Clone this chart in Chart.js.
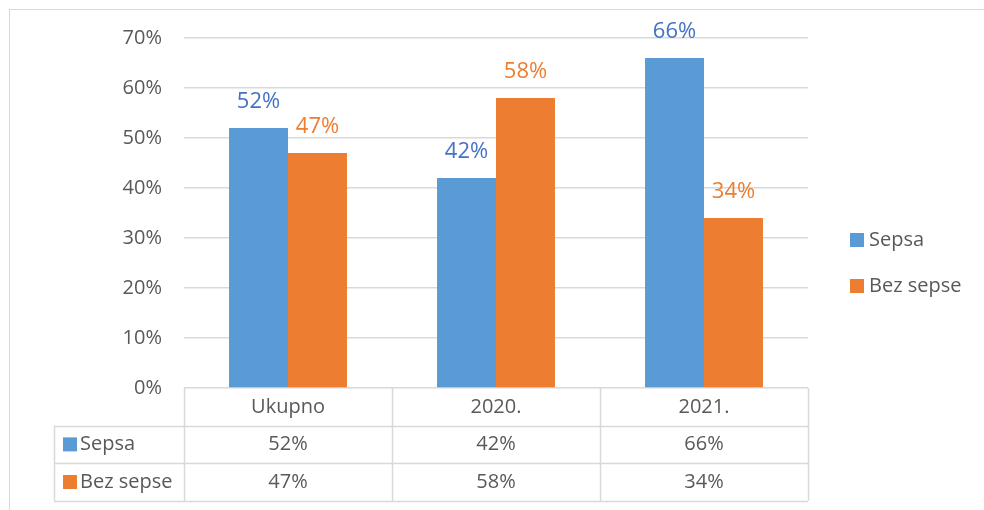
<!DOCTYPE html>
<html>
<head>
<meta charset="utf-8">
<script src="https://cdn.jsdelivr.net/npm/chart.js@4"></script>
<style>
  body { margin: 0; background: #fff; }
  #wrap { position: relative; width: 984px; height: 510px; }
  #frame { position: absolute; left: 9px; top: 9px; width: 990px; height: 520px; border: 1px solid #d9d9d9; box-sizing: border-box; }
  canvas { position: absolute; left: 0; top: 0; }
</style>
</head>
<body>
<div id="wrap">
  <div id="frame"></div>
  <canvas id="chart" width="984" height="510"></canvas>
</div>
<script>
const categories = ['Ukupno', '2020.', '2021.'];
const seriesNames = ['Sepsa', 'Bez sepse'];
const sepsa = [52, 42, 66];
const bezSepse = [47, 58, 34];
const yTicks = [0, 10, 20, 30, 40, 50, 60, 70];

const barColors = ['#5B9BD5', '#ED7D31'];
const labelColors = ['#4472C4', '#ED7D31'];
const textColor = '#595959';
const lineColor = '#d9d9d9';
const fontFamily = '"Open Sans", sans-serif';

// value labels above each bar
const valueLabels = {
  id: 'valueLabels',
  afterDatasetsDraw(chart) {
    const ctx = chart.ctx;
    ctx.save();
    ctx.font = '22px ' + fontFamily;
    ctx.textAlign = 'center';
    ctx.textBaseline = 'middle';
    chart.data.datasets.forEach((ds, i) => {
      chart.getDatasetMeta(i).data.forEach((bar, j) => {
        ctx.fillStyle = labelColors[i];
        ctx.fillText(ds.data[j] + '%', bar.x, bar.y - 26);
      });
    });
    ctx.restore();
  }
};

// data table under the plot + legend on the right
const dataTable = {
  id: 'dataTable',
  afterDraw(chart) {
    const ctx = chart.ctx;
    const area = chart.chartArea;
    const x = chart.scales.x;
    const rowH = 37.6;
    const top = area.bottom;
    const left = 54;
    const step = (area.right - area.left) / categories.length;

    ctx.save();
    ctx.strokeStyle = lineColor;
    ctx.lineWidth = 1.5;
    ctx.beginPath();
    // horizontal lines
    for (let r = 1; r <= 3; r++) {
      const y = Math.round(top + r * rowH) + 0.5;
      ctx.moveTo(left, y);
      ctx.lineTo(area.right, y);
    }
    // vertical lines
    for (let c = 0; c <= categories.length; c++) {
      const xx = Math.round(area.left + c * step) + 0.5;
      ctx.moveTo(xx, top);
      ctx.lineTo(xx, top + 3 * rowH);
    }
    ctx.moveTo(left + 0.5, top + rowH);
    ctx.lineTo(left + 0.5, top + 3 * rowH);
    ctx.stroke();

    ctx.font = '20px ' + fontFamily;
    ctx.fillStyle = textColor;
    ctx.textAlign = 'center';
    ctx.textBaseline = 'middle';
    categories.forEach((c, j) => {
      const cx = x.getPixelForTick(j);
      ctx.fillText(c, cx, top + rowH / 2);
      chart.data.datasets.forEach((ds, i) => {
        ctx.fillText(ds.data[j] + '%', cx, top + rowH * (i + 1.5));
      });
    });

    // series names with keys
    ctx.textAlign = 'left';
    seriesNames.forEach((name, i) => {
      const cy = top + rowH * (i + 1.5);
      ctx.fillStyle = barColors[i];
      ctx.fillRect(63, cy - 7, 14, 14);
      ctx.fillStyle = textColor;
      ctx.fillText(name, 80, cy);
    });

    // legend
    seriesNames.forEach((name, i) => {
      const cy = 240 + i * 46;
      ctx.fillStyle = barColors[i];
      ctx.fillRect(850, cy - 7, 14, 14);
      ctx.fillStyle = textColor;
      ctx.fillText(name, 869, cy);
    });
    ctx.restore();
  }
};

new Chart(document.getElementById('chart'), {
  type: 'bar',
  data: {
    labels: categories,
    datasets: [
      { label: seriesNames[0], data: sepsa, backgroundColor: barColors[0] },
      { label: seriesNames[1], data: bezSepse, backgroundColor: barColors[1] }
    ]
  },
  options: {
    responsive: false,
    animation: false,
    layout: { padding: { top: 38, right: 176, bottom: 122, left: 0 } },
    datasets: { bar: { barPercentage: 1, categoryPercentage: 0.567 } },
    scales: {
      x: { display: false },
      y: {
        min: 0,
        max: 70,
        afterFit: (s) => { s.width = 184; },
        afterBuildTicks: (s) => { s.ticks = yTicks.map(v => ({ value: v })); },
        border: { display: false },
        grid: { color: lineColor, lineWidth: 1.5, drawTicks: false },
        ticks: {
          padding: 22,
          color: textColor,
          font: { family: fontFamily, size: 20 },
          callback: (v) => v + '%'
        }
      }
    },
    plugins: {
      legend: { display: false },
      tooltip: { enabled: false }
    }
  },
  plugins: [valueLabels, dataTable]
});
</script>
</body>
</html>
